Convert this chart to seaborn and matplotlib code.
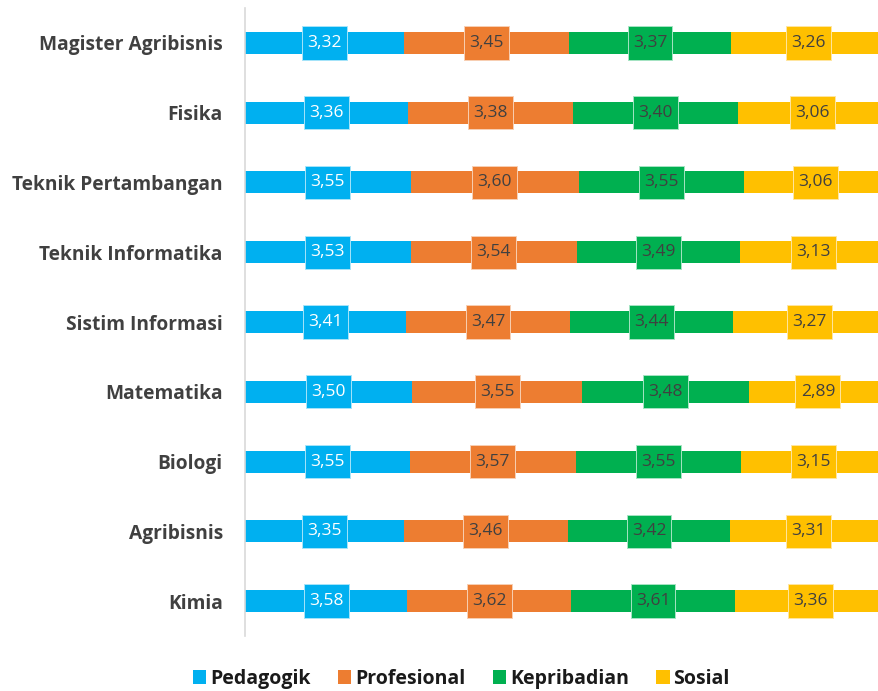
import matplotlib
matplotlib.use("Agg")
import numpy as np
import pandas as pd
import seaborn as sns
import matplotlib.pyplot as plt
from matplotlib.patches import Patch
from matplotlib.path import Path

programs = ["Magister Agribisnis", "Fisika", "Teknik Pertambangan", "Teknik Informatika",
            "Sistim Informasi", "Matematika", "Biologi", "Agribisnis", "Kimia"]
pedagogik = [3.32, 3.36, 3.55, 3.53, 3.41, 3.50, 3.55, 3.35, 3.58]
profesional = [3.45, 3.38, 3.60, 3.54, 3.47, 3.55, 3.57, 3.46, 3.62]
kepribadian = [3.37, 3.40, 3.55, 3.49, 3.44, 3.48, 3.55, 3.42, 3.61]
sosial = [3.26, 3.06, 3.06, 3.13, 3.27, 2.89, 3.15, 3.31, 3.36]

series = ["Pedagogik", "Profesional", "Kepribadian", "Sosial"]
colors = ["#00B0F0", "#ED7D31", "#00B050", "#FFC000"]
edge_colors = ["#a6e4fa", "#f8cfb3", "#a6e4c3", "#ffe6a0"]
text_colors = ["#FFFFFF", "#404040", "#404040", "#404040"]

sns.set_style("white")
plt.rcParams["font.family"] = ["Open Sans", "DejaVu Sans"]

df = pd.DataFrame({"Program": programs, "Pedagogik": pedagogik, "Profesional": profesional,
                   "Kepribadian": kepribadian, "Sosial": sosial})
vals = df[series].to_numpy()
shares = vals / vals.sum(axis=1)[:, None]
cum = shares.cumsum(axis=1)


def label_box(x0, y0, width, height, mutation_size):
    padx = 0.3 * mutation_size
    pady = 0.5 * mutation_size
    x0 -= padx
    y0 -= pady
    x1 = x0 + width + 2 * padx
    y1 = y0 + height + 2 * pady
    return Path([(x0, y0), (x1, y0), (x1, y1), (x0, y1), (x0, y0)], closed=True)


fig = plt.figure(figsize=(8.79, 6.91), dpi=100)
ax = fig.add_axes([245 / 879, 55 / 691, 642 / 879, 628 / 691])

for i in reversed(range(len(series))):
    d = pd.DataFrame({"Program": programs, "cum": cum[:, i]})
    sns.barplot(data=d, x="cum", y="Program", orient="h", order=programs,
                color=colors[i], saturation=1, width=0.315, linewidth=0, ax=ax)

for r in range(len(programs)):
    for i in range(len(series)):
        xc = cum[r, i] - shares[r, i] / 2
        ax.text(xc, r, f"{vals[r, i]:.2f}".replace(".", ","), ha="center", va="center",
                fontsize=12.5, color=text_colors[i], zorder=5,
                bbox=dict(boxstyle=label_box, fc=colors[i], ec=edge_colors[i], lw=0.7))

ax.set_xlim(0, 1)
ax.set_ylim(8.5, -0.5)
ax.set_xlabel("")
ax.set_ylabel("")
ax.set_xticks([])
ax.tick_params(axis="y", length=0, pad=16)
for lab in ax.get_yticklabels():
    lab.set_fontsize(13.8)
    lab.set_fontweight("bold")
    lab.set_color("#404040")
for s in ["top", "right", "bottom"]:
    ax.spines[s].set_visible(False)
ax.spines["left"].set_color("#D9D9D9")
ax.spines["left"].set_linewidth(1.2)

handles = [Patch(facecolor=c, edgecolor="none", label=s) for s, c in zip(series, colors)]
leg = fig.legend(handles=handles, loc="center", bbox_to_anchor=(0.525, 1 - 679 / 691), ncol=4,
                 frameon=False, prop={"size": 14, "weight": "bold"}, handlelength=0.69,
                 handleheight=0.69, handletextpad=0.2, columnspacing=1.4)
for t in leg.get_texts():
    t.set_color("#1a1a1a")

fig.savefig("out.png", dpi=100)
